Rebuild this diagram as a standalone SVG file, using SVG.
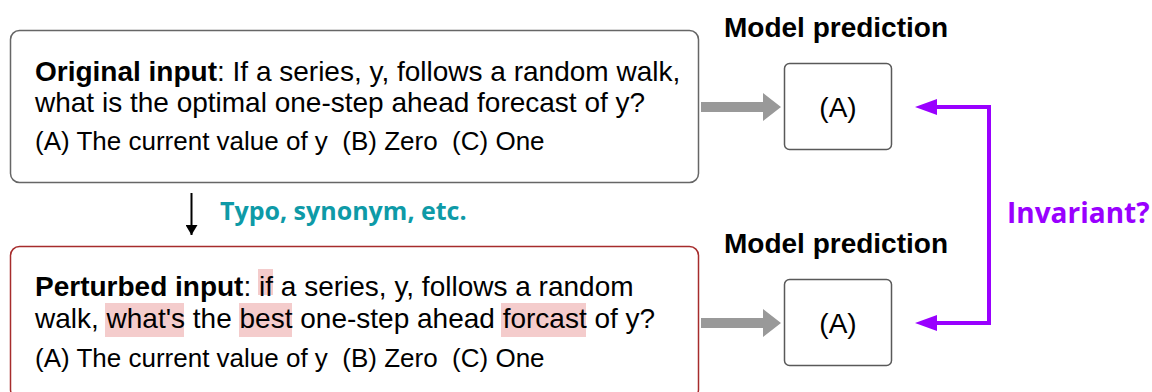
<svg xmlns="http://www.w3.org/2000/svg" width="1152" height="392" viewBox="0 0 1152 392">
<defs>
<style>
.t{font-family:"Liberation Sans",Arial,sans-serif;fill:#000;white-space:pre}
.b{font-weight:700}
.l{font-size:28px}
.s{font-size:26px}
.hl{fill:#f4cccc}
.pbox{fill:#fff;stroke:#595959;stroke-width:1.5}
.os{font-family:"Open Sans","Noto Sans",sans-serif;font-weight:700}
</style>
<marker id="blk" viewBox="0 0 10 12" refX="10" refY="6" markerWidth="10" markerHeight="12" markerUnits="userSpaceOnUse" orient="auto"><path d="M0,0 L10,6 L0,12 Z" fill="#000"/></marker>
</defs>
<rect width="1152" height="392" fill="#fff"/>

<g id="original-input">
<rect x="10.5" y="30.5" width="688" height="152" rx="9" fill="#fff" stroke="#666" stroke-width="1.5"/>
<text class="t l" x="35" y="81"><tspan class="b">Original input</tspan>: If a series, y, follows a random walk,</text>
<text class="t l" x="35" y="112">what is the optimal one-step ahead forecast of y?</text>
<text class="t s" x="35" y="150" xml:space="preserve">(A) The current value of y  (B) Zero  (C) One</text>
</g>

<g id="perturbed-input">
<rect x="10.5" y="246.5" width="688" height="152" rx="9" fill="#fff" stroke="#a62c2c" stroke-width="1.5"/>
<rect class="hl" x="258" y="269" width="15" height="26"/>
<rect class="hl" x="105" y="303" width="79" height="34"/>
<rect class="hl" x="239" y="303" width="53" height="34"/>
<rect class="hl" x="501" y="303" width="85" height="34"/>
<text class="t l" x="35" y="296"><tspan class="b">Perturbed input</tspan>: if a series, y, follows a random</text>
<text class="t l" x="35" y="328">walk, what's the best one-step ahead forcast of y?</text>
<text class="t s" x="35" y="367" xml:space="preserve">(A) The current value of y  (B) Zero  (C) One</text>
</g>

<g id="prediction-top">
<text class="t b l" x="724" y="37">Model prediction</text>
<rect class="pbox" x="784.5" y="63.5" width="107" height="86" rx="5"/>
<text class="t l" x="838" y="117" text-anchor="middle">(A)</text>
</g>

<g id="prediction-bottom">
<text class="t b l" x="724" y="253">Model prediction</text>
<rect class="pbox" x="784.5" y="279.5" width="107" height="86" rx="5"/>
<text class="t l" x="838" y="333" text-anchor="middle">(A)</text>
</g>

<g id="perturbation-label">
<text class="os" x="220" y="220" font-size="25" fill="#0e9aa7">Typo, synonym, etc.</text>
</g>

<g id="invariant-label">
<text class="os" x="1007" y="223" font-size="28" fill="#9900ff">Invariant?</text>
</g>

<g id="connectors">
<line x1="191.5" y1="193" x2="191.5" y2="235" stroke="#000" stroke-width="2" marker-end="url(#blk)"/>
<path d="M701,102 H763 V93 L781,107 L763,121 V112 H701 Z" fill="#999"/>
<path d="M701,318 H763 V309 L781,323 L763,337 V328 H701 Z" fill="#999"/>
<path d="M934,107 H989 V323 H934" fill="none" stroke="#9900ff" stroke-width="4"/>
<path d="M915,107 L937,99 L937,115 Z" fill="#9900ff"/>
<path d="M915,323 L937,315 L937,331 Z" fill="#9900ff"/>
</g>
</svg>
